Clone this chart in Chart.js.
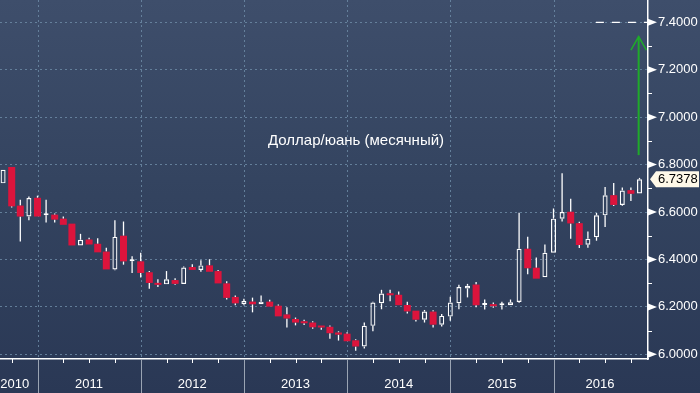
<!DOCTYPE html>
<html><head><meta charset="utf-8">
<script src="https://cdn.jsdelivr.net/npm/chart.js@4.4.1/dist/chart.umd.min.js"></script>
<style>html,body{margin:0;padding:0;background:#31405d;overflow:hidden}canvas{display:block}</style>
</head><body><canvas id="c" width="700" height="393"></canvas>
<script>
// ---- data (monthly candles, USD/CNY) ----
const months = ['2010-08','2010-09','2010-10','2010-11','2010-12',
 '2011-01','2011-02','2011-03','2011-04','2011-05','2011-06','2011-07','2011-08','2011-09','2011-10','2011-11','2011-12',
 '2012-01','2012-02','2012-03','2012-04','2012-05','2012-06','2012-07','2012-08','2012-09','2012-10','2012-11','2012-12',
 '2013-01','2013-02','2013-03','2013-04','2013-05','2013-06','2013-07','2013-08','2013-09','2013-10','2013-11','2013-12',
 '2014-01','2014-02','2014-03','2014-04','2014-05','2014-06','2014-07','2014-08','2014-09','2014-10','2014-11','2014-12',
 '2015-01','2015-02','2015-03','2015-04','2015-05','2015-06','2015-07','2015-08','2015-09','2015-10','2015-11','2015-12',
 '2016-01','2016-02','2016-03','2016-04','2016-05','2016-06','2016-07','2016-08','2016-09','2016-10'];
const open = [6.721,6.790,6.627,6.581,6.660,
 6.586,6.589,6.572,6.551,6.459,6.484,6.466,6.433,6.358,6.500,6.392,6.392,
 6.346,6.301,6.295,6.313,6.297,6.368,6.356,6.375,6.351,6.299,6.242,6.211,
 6.222,6.211,6.222,6.205,6.168,6.149,6.139,6.134,6.121,6.116,6.092,6.087,
 6.059,6.033,6.120,6.215,6.256,6.251,6.208,6.184,6.146,6.180,6.125,6.159,
 6.215,6.278,6.294,6.208,6.210,6.207,6.207,6.221,6.445,6.365,6.325,6.428,
 6.572,6.601,6.553,6.462,6.494,6.586,6.671,6.630,6.692,6.678];
const high = [6.778,6.790,6.652,6.665,6.669,
 6.652,6.594,6.581,6.551,6.508,6.491,6.489,6.449,6.565,6.560,6.414,6.428,
 6.351,6.316,6.351,6.321,6.370,6.380,6.397,6.401,6.355,6.308,6.248,6.234,
 6.239,6.248,6.230,6.210,6.198,6.155,6.146,6.139,6.121,6.121,6.097,6.093,
 6.063,6.134,6.222,6.272,6.272,6.265,6.222,6.184,6.187,6.186,6.170,6.243,
 6.293,6.297,6.305,6.231,6.218,6.222,6.231,6.597,6.496,6.408,6.463,6.615,
 6.764,6.656,6.559,6.518,6.596,6.705,6.722,6.703,6.703,6.744];
const low = [6.721,6.619,6.476,6.565,6.581,
 6.556,6.556,6.546,6.459,6.459,6.463,6.430,6.358,6.354,6.378,6.343,6.324,
 6.276,6.284,6.295,6.293,6.297,6.356,6.348,6.348,6.299,6.231,6.207,6.207,
 6.177,6.211,6.201,6.160,6.113,6.122,6.124,6.108,6.104,6.066,6.058,6.055,
 6.015,6.025,6.097,6.190,6.224,6.207,6.172,6.138,6.134,6.113,6.117,6.141,
 6.190,6.240,6.198,6.189,6.196,6.189,6.207,6.217,6.338,6.319,6.325,6.428,
 6.560,6.487,6.448,6.449,6.479,6.537,6.625,6.626,6.647,6.678];
const close = [6.778,6.624,6.581,6.659,6.581,
 6.586,6.568,6.546,6.459,6.483,6.463,6.430,6.358,6.495,6.392,6.392,6.343,
 6.301,6.293,6.316,6.297,6.366,6.356,6.375,6.348,6.299,6.238,6.215,6.225,
 6.211,6.222,6.201,6.160,6.151,6.134,6.131,6.114,6.113,6.089,6.083,6.055,
 6.033,6.120,6.218,6.256,6.249,6.207,6.181,6.146,6.180,6.125,6.162,6.218,
 6.284,6.289,6.207,6.208,6.203,6.207,6.219,6.445,6.363,6.319,6.428,6.572,
 6.600,6.552,6.461,6.487,6.586,6.671,6.630,6.691,6.677,6.7378];

const yearLabels = ['2010','2011','2012','2013','2014','2015','2016'];
const yearLabelPos = [-2.65, 6, 18, 30, 42, 54, 65.4];
const yearStarts = [0, 12, 24, 36, 48, 60];
const quarterTicks = [-3,3,6,9,15,18,21,27,30,33,39,42,45,51,54,57,63,66,69];
const yMajor = [6.0,6.2,6.4,6.6,6.8,7.0,7.2,7.4];
const yMinor = [6.1,6.3,6.5,6.7,6.9,7.1,7.3];
const chartTitle = 'Доллар/юань (месячный)';
const targetLevel = 7.4;
const targetFrom = 64.93;
const arrowX = 69.9, arrowHeadL = 69.0, arrowHeadR = 70.8;
const arrowBottom = 6.84, arrowTip = 7.34, arrowHeadBase = 7.283;

// ---- helpers ----
const xOf = s => { const [y, m] = s.split('-').map(Number); return (y - 2011) * 12 + m; };
const RED = '#dc143c', GRID = 'rgba(108,138,165,0.85)', GREEN = '#1faa2a';
const up = [], down = [], wickUp = [], wickDn = [];
months.forEach((m, i) => {
  const x = xOf(m), o = open[i], c = close[i];
  const top = Math.max(o, c), bot = Math.min(o, c);
  (c >= o ? up : down).push({x, y: [o, c]});
  wickUp.push({x, y: [top, high[i]]});
  wickDn.push({x, y: [low[i], bot]});
});

const decor = {
  id: 'decor',
  beforeDraw(chart) {
    const {ctx, width, height} = chart;
    const g = ctx.createLinearGradient(0, 0, 0, height);
    g.addColorStop(0, '#3e4e6b');
    g.addColorStop(0.5, '#33435f');
    g.addColorStop(1, '#2a3855');
    ctx.save(); ctx.fillStyle = g; ctx.fillRect(0, 0, width, height); ctx.restore();
  },
  beforeDatasetsDraw(chart) {
    const {ctx, chartArea, scales: {x}} = chart;
    ctx.save();
    ctx.strokeStyle = GRID; ctx.lineWidth = 1; ctx.setLineDash([2, 3]);
    yearStarts.forEach(v => {
      const px = Math.round(x.getPixelForValue(v)) + 0.5;
      ctx.beginPath(); ctx.moveTo(px, chartArea.top); ctx.lineTo(px, chartArea.bottom); ctx.stroke();
    });
    ctx.restore();
  },
  afterDraw(chart) {
    const {ctx, chartArea, scales: {x, y}, height} = chart;
    const ax = chartArea.right, bx = chartArea.bottom;
    ctx.save();
    // year separators below axis
    ctx.strokeStyle = '#9aa4b3'; ctx.lineWidth = 1;
    yearStarts.forEach(v => {
      const px = Math.round(x.getPixelForValue(v)) + 0.5;
      ctx.beginPath(); ctx.moveTo(px, bx); ctx.lineTo(px, height); ctx.stroke();
    });
    // quarter ticks
    ctx.strokeStyle = '#ffffff';
    quarterTicks.forEach(v => {
      const px = Math.round(x.getPixelForValue(v)) + 0.5;
      ctx.beginPath(); ctx.moveTo(px, bx); ctx.lineTo(px, bx + 4); ctx.stroke();
    });
    // y minor ticks
    yMinor.forEach(v => {
      const py = Math.round(y.getPixelForValue(v)) + 0.5;
      ctx.beginPath(); ctx.moveTo(ax, py); ctx.lineTo(ax + 4, py); ctx.stroke();
    });
    // y major triangles
    ctx.fillStyle = '#ffffff';
    yMajor.forEach(v => {
      const py = y.getPixelForValue(v);
      ctx.beginPath(); ctx.moveTo(ax, py - 3.5); ctx.lineTo(ax + 9, py); ctx.lineTo(ax, py + 3.5); ctx.closePath(); ctx.fill();
    });
    // title
    ctx.fillStyle = '#ffffff';
    ctx.font = '15px "Liberation Sans", Arial, sans-serif';
    ctx.textAlign = 'center'; ctx.textBaseline = 'middle';
    ctx.fillText(chartTitle, 356, 141);
    // last price tag
    const last = close[close.length - 1];
    const py = y.getPixelForValue(last);
    ctx.fillStyle = '#fff9e8';
    ctx.beginPath();
    ctx.moveTo(ax + 2, py); ctx.lineTo(ax + 8, py - 8); ctx.lineTo(699, py - 8);
    ctx.lineTo(699, py + 8); ctx.lineTo(ax + 8, py + 8); ctx.closePath(); ctx.fill();
    ctx.fillStyle = '#000000';
    ctx.font = '13px "Liberation Sans", Arial, sans-serif';
    ctx.textAlign = 'left';
    ctx.fillText(last.toFixed(4), ax + 10, py + 0.5);
    ctx.restore();
  }
};

new Chart(document.getElementById('c'), {
  type: 'bar',
  data: {
    datasets: [
      {type: 'line', data: [{x: targetFrom, y: targetLevel}, {x: 71, y: targetLevel}], borderColor: '#ffffff', borderWidth: 1.3, borderDash: [8, 8], pointRadius: 0, fill: false},
      {type: 'line', data: [{x: arrowX, y: arrowBottom}, {x: arrowX, y: arrowTip}], borderColor: GREEN, borderWidth: 2, pointRadius: 0, fill: false},
      {type: 'line', data: [{x: arrowHeadL, y: arrowHeadBase}, {x: arrowX, y: arrowTip}, {x: arrowHeadR, y: arrowHeadBase}], borderColor: GREEN, borderWidth: 1.5, pointRadius: 0, fill: false},
      {data: up, backgroundColor: 'rgba(0,0,0,0)', borderColor: '#ffffff', borderWidth: 1.2, barThickness: 5, minBarLength: 2},
      {data: down, backgroundColor: RED, borderWidth: 0, barThickness: 7, minBarLength: 2},
      {data: wickUp, backgroundColor: '#ffffff', borderWidth: 0, barThickness: 1.3},
      {data: wickDn, backgroundColor: '#ffffff', borderWidth: 0, barThickness: 1.3}
    ]
  },
  options: {
    responsive: false, animation: false, devicePixelRatio: 1,
    layout: {padding: 0},
    datasets: {bar: {grouped: false, borderSkipped: false, inflateAmount: 0}},
    plugins: {legend: {display: false}, tooltip: {enabled: false}},
    scales: {
      x: {
        type: 'linear', min: -4.3605, max: 70.988, offset: false,
        grid: {display: false, drawTicks: false},
        border: {display: true, color: '#ffffff', width: 1.5},
        afterBuildTicks: s => { s.ticks = yearLabelPos.map(v => ({value: v})); },
        afterFit: s => { s.height = 34; s.paddingLeft = 0; s.paddingRight = 0; },
        ticks: {
          autoSkip: false, maxRotation: 0, padding: 18, color: '#ffffff',
          font: {family: '"Liberation Sans", Arial, sans-serif', size: 13},
          callback: (v, i) => yearLabels[i]
        }
      },
      y: {
        type: 'linear', position: 'right', min: 5.9802, max: 7.4941, beginAtZero: false,
        grid: {color: GRID, lineWidth: 1, drawTicks: false},
        border: {display: true, color: '#ffffff', width: 1.5, dash: [2, 3]},
        afterBuildTicks: s => { s.ticks = yMajor.map(v => ({value: v})); },
        afterFit: s => { s.width = 52; s.paddingTop = 0; s.paddingBottom = 0; },
        ticks: {
          padding: 10, color: '#ffffff',
          font: {family: '"Liberation Sans", Arial, sans-serif', size: 13},
          callback: v => Number(v).toFixed(4)
        }
      }
    }
  },
  plugins: [decor]
});
</script></body></html>
